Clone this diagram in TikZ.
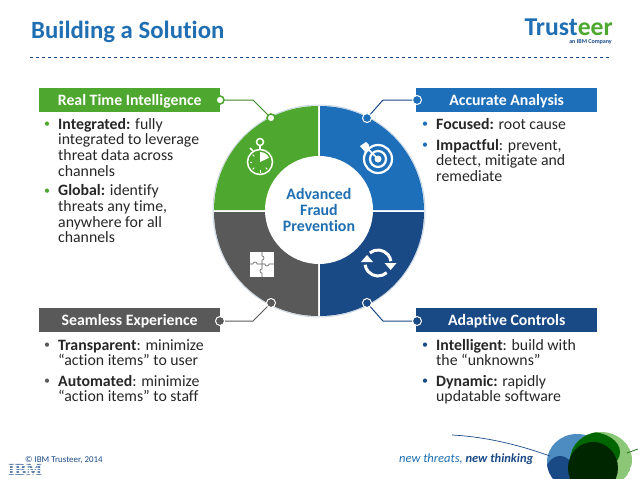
\documentclass[tikz,border=0pt]{standalone}
\usepackage{fontspec}
\setmainfont[Ligatures=CommonOff]{Carlito}
\newfontfamily\ibmfont{Liberation Serif}
\usepackage{xcolor}
\usetikzlibrary{arrows.meta, positioning, calc}

\definecolor{titleblue}{HTML}{1F6FB2}
\definecolor{barblue}{HTML}{1E6FBA}
\definecolor{darkblue}{HTML}{1A4A86}
\definecolor{leafgreen}{HTML}{4EA72E}
\definecolor{slategray}{HTML}{595959}
\definecolor{ringgray}{HTML}{C9D6E2}

\begin{document}
\begin{tikzpicture}[
            x=1pt, y=-1pt,
            bar/.style={
                rectangle,
                minimum width=181pt,
                minimum height=24pt,
                inner sep=0pt,
                text height=11pt,
                text depth=0pt,
                text=white,
                font=\fontsize{15.8}{15.8}\selectfont\bfseries
            },
            item/.style={
                anchor=north west,
                inner sep=0pt,
                align=left,
                text=black!85,
                font=\fontsize{15.8}{15.7}\selectfont
            },
            dot/.style={
                anchor=center,
                inner sep=0pt,
                font=\fontsize{12}{12}\selectfont
            },
            pin/.style={
                circle,
                draw=white,
                line width=1pt,
                minimum size=9pt,
                inner sep=0pt
            },
            link/.style={
                draw,
                line width=1pt
            },
            icon/.style={
                draw=white,
                line width=1.5pt
            }
        ]
            \useasboundingbox (0,0) rectangle (638,479);

            % --- HEADER ---
            \node [anchor=base west, inner sep=0pt, text=titleblue, font=\fontsize{24.8}{24.8}\selectfont\bfseries] (title) at (31,38) {Building a Solution};
            \coordinate (ruleL) at (30,57);
            \coordinate (ruleR) at (612,57);
            \draw [dashed, darkblue, line width=0.6pt] (ruleL) -- (ruleR);

            \node [anchor=base east, inner sep=0pt, text=titleblue, font=\fontsize{25.7}{25.7}\selectfont\bfseries] (logo) at (613,35) {Trust\textcolor{leafgreen}{eer}};
            \node [anchor=base east, inner sep=0pt, text=darkblue, font=\fontsize{6}{6}\selectfont\bfseries] (company) at (612,43.5) {an IBM Company};

            % --- RING ---
            \fill [ringgray] (319,211) circle (106.5);
            \fill [white] (319,211) circle (105.5);
            \fill [leafgreen] (318,210) -- (318,106) arc (-90:-180:104) -- cycle;
            \fill [barblue] (320,210) -- (320,106) arc (-90:0:104) -- cycle;
            \fill [slategray] (318,212) -- (318,316) arc (90:180:104) -- cycle;
            \fill [darkblue] (320,212) -- (320,316) arc (90:0:104) -- cycle;
            \node [circle, fill=white, minimum size=108pt, inner sep=0pt, align=center, text=titleblue,
                font=\fontsize{15.9}{16}\selectfont\bfseries] (core) at (319,210) {Advanced\\Fraud\\Prevention};

            % --- BARS ---
            \node [bar, fill=leafgreen, anchor=west] (realtime) at (39,100) {Real Time Intelligence};
            \node [bar, fill=barblue, anchor=west] (accurate) at (416,100) {Accurate Analysis};
            \node [bar, fill=slategray, anchor=west] (seamless) at (39,320) {Seamless Experience};
            \node [bar, fill=darkblue, anchor=west] (adaptive) at (416,320) {Adaptive Controls};

            % --- PINS ---
            \node [pin, draw=leafgreen, fill=white, line width=1.6pt, minimum size=8pt] (pinA) at (220,100) {};
            \node [pin, draw=leafgreen, fill=white, line width=1.6pt, minimum size=8pt] (pinB) at (271,118) {};
            \node [pin, fill=barblue] (pinC) at (417,100) {};
            \node [pin, fill=barblue] (pinD) at (367,118) {};
            \node [pin, fill=slategray] (pinE) at (220,321) {};
            \node [pin, fill=slategray] (pinF) at (271,303) {};
            \node [pin, fill=darkblue] (pinG) at (417,321) {};
            \node [pin, fill=darkblue] (pinH) at (367,303) {};

            % --- LINKS ---
            \path [link, leafgreen!80!black] (pinA) -- (253,100) -- (pinB);
            \path [link, darkblue] (pinC) -- (383,100) -- (pinD);
            \path [link, slategray] (pinE) -- (253,321) -- (pinF);
            \path [link, darkblue] (pinG) -- (383,321) -- (pinH);

            % --- TEXTOS ---
            \node [dot, text=leafgreen] (b1) at (47,124.5) {•};
            \node [item] (t1) at (58,118) {\textbf{Integrated:} fully\\integrated to leverage\\threat data across\\channels};
            \node [dot, text=leafgreen] (b2) at (47,191.5) {•};
            \node [item] (t2) at (58,184.5) {\textbf{Global:} identify\\threats any time,\\anywhere for all\\channels};

            \node [dot, text=barblue] (b3) at (425,124.5) {•};
            \node [item] (t3) at (436,118) {\textbf{Focused:} root cause};
            \node [dot, text=barblue] (b4) at (425,145.5) {•};
            \node [item] (t4) at (436,139) {\textbf{Impactful}: prevent,\\detect, mitigate and\\remediate};

            \node [dot, text=slategray] (b5) at (47,345.5) {•};
            \node [item] (t5) at (58,339) {\textbf{Transparent}: minimize\\“action items” to user};
            \node [dot, text=slategray] (b6) at (47,381.5) {•};
            \node [item] (t6) at (58,375) {\textbf{Automated}: minimize\\“action items” to staff};

            \node [dot, text=darkblue] (b7) at (425,345.5) {•};
            \node [item] (t7) at (436,339) {\textbf{Intelligent}: build with\\the “unknowns”};
            \node [dot, text=darkblue] (b8) at (425,381.5) {•};
            \node [item] (t8) at (436,375) {\textbf{Dynamic:} rapidly\\updatable software};

            % --- ICONOS ---
            % cronometro
            \draw [icon] (260,162) circle (12.5);
            \draw [icon] (260,142) circle (3.5);
            \draw [icon] (260,146) -- (260,149.5);
            \draw [icon] (250,148) -- (253,151);
            \fill [white] (260,162) -- (260,152) arc (-90:-25:10) -- cycle;
            \foreach \tick in {90,180,225,135,45} {
                \draw [white, line width=0.9pt] (260,162) ++(\tick:8) -- ++(\tick:2.5);
            }
            % diana
            \draw [icon, line width=2.2pt] (378,159) circle (14);
            \draw [icon, line width=2.2pt] (378,159) circle (8);
            \fill [white] (378,159) circle (3.5);
            \draw [icon, line width=1.6pt] (378,159) -- (366,147);
            \fill [white] (360,146) -- (366,142) -- (369,145) -- (369,151) -- (365,152) -- cycle;
            % flechas
            \draw [icon, line width=3pt] (378,263) ++(-129:13) arc (-129:-8:13);
            \draw [icon, line width=3pt] (378,263) ++(48:13) arc (48:172:13);
            \fill [white] (384.5,263) -- (396.5,263) -- (390.7,270) -- cycle;
            \fill [white] (361,262) -- (373,262) -- (367,255) -- cycle;
            % rompecabezas
            \fill [white] (250,252) rectangle (274,277);
            \draw [slategray, line width=0.6pt] (250,264) -- (253,264) arc (180:360:2) -- (262,264)
                -- (265,264) arc (180:0:2) -- (274,264);
            \draw [slategray, line width=0.6pt] (262,252) -- (262,256) arc (-90:90:2) -- (262,264)
                -- (262,269) arc (-90:-270:2) -- (262,277);

            % --- PIE ---
            \node [anchor=base west, inner sep=0pt, text=darkblue, font=\fontsize{8.9}{8.9}\selectfont] (copy) at (25,462) {© IBM Trusteer, 2014};
            \node [anchor=base west, inner sep=0pt, text=darkblue!70, font=\fontsize{17}{17}\selectfont\ibmfont\bfseries] (ibm) at (8,475.5) {IBM};
            \foreach \stripe in {465.5,468,470.5,473} {
                \draw [white, line width=0.5pt] (6,\stripe) -- (40,\stripe);
            }
            \node [anchor=base west, inner sep=0pt, text=titleblue, font=\fontsize{12.5}{12.5}\selectfont\itshape] (slogan) at (399,462) {new threats, \textcolor{darkblue}{\textbf{new thinking}}};

            % --- HOJA ---
            \begin{scope}
                \clip (500,420) rectangle (638,478);
                \begin{scope}
                    \clip (577,462) ellipse (30 and 28);
                    \fill [titleblue!80] (577,462) ellipse (30 and 28);
                    \fill [darkblue] (560,478) ellipse (16 and 22);
                \end{scope}
                \begin{scope}
                    \clip (601,460) ellipse (31 and 28);
                    \fill [leafgreen!65] (601,460) ellipse (31 and 28);
                    \fill [green!40!black] (590,452) ellipse (30 and 20);
                \end{scope}
                \fill [green!15!black] (593,468) ellipse (25 and 26);
            \end{scope}
            \draw [darkblue, line width=0.7pt] (452,435) .. controls (490,437) and (525,447) .. (550,456);
            \draw [green!40!black, line width=0.7pt] (627,453) -- (638,449);
        \end{tikzpicture}
\end{document}
